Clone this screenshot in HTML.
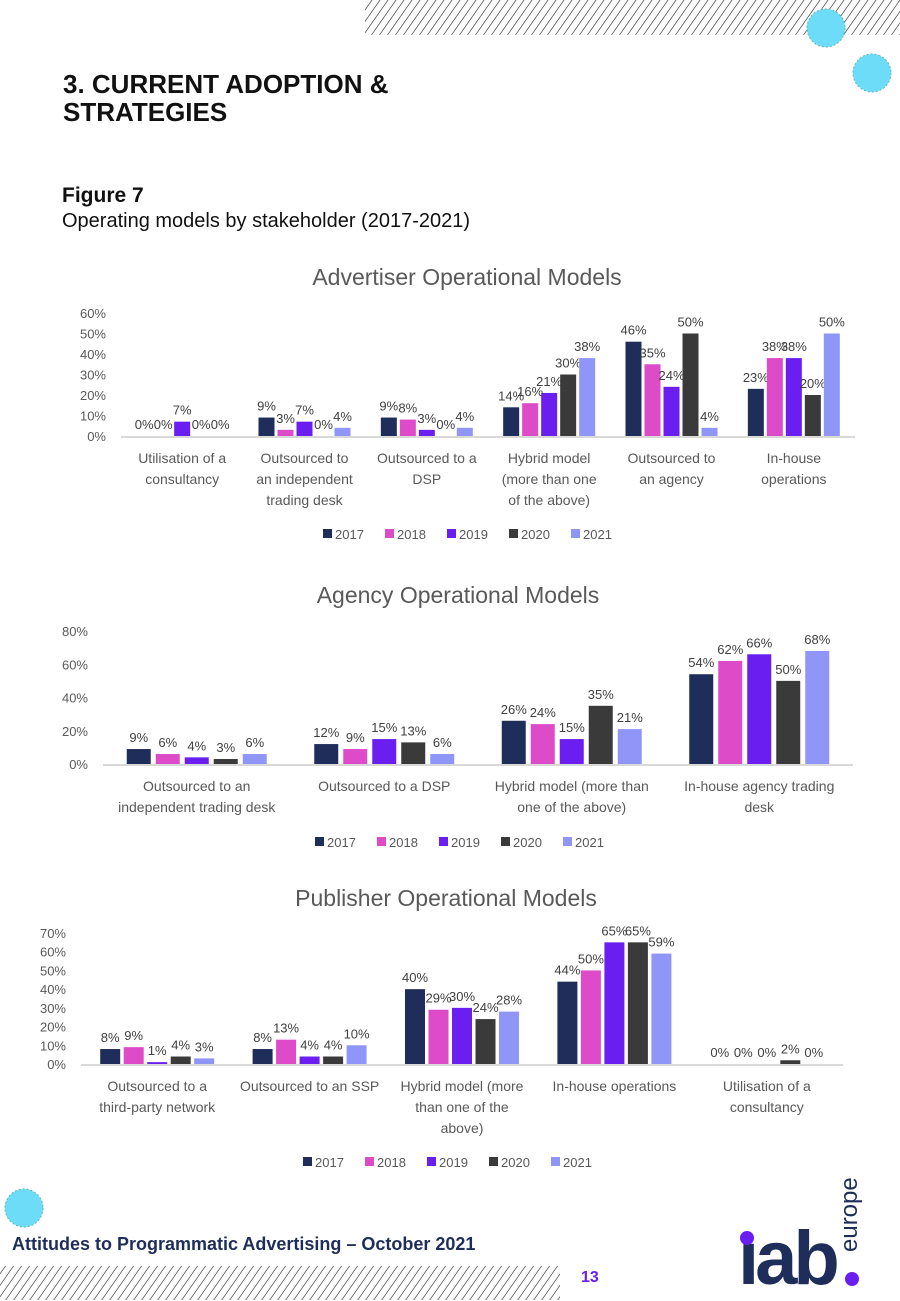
<!DOCTYPE html>
<html><head><meta charset="utf-8">
<style>
body{margin:0;width:900px;height:1300px;position:relative;background:#fff;font-family:"Liberation Sans",sans-serif;overflow:hidden}
.abs{position:absolute}
</style></head>
<body>
<svg class="abs" style="left:0;top:0" width="900" height="1300">
<defs>
<pattern id="hatch" width="8" height="8" patternUnits="userSpaceOnUse" patternTransform="skewX(-35)">
<line x1="4" y1="0" x2="4" y2="8" stroke="#333" stroke-width="0.8"/></pattern>
</defs>
<rect x="365" y="0" width="535" height="35" fill="url(#hatch)"/>
<rect x="0" y="1266" width="560" height="34" fill="url(#hatch)"/>
<circle cx="826" cy="28" r="19" fill="#6ddcf8" stroke="#5bb" stroke-dasharray="2 2"/>
<circle cx="872" cy="73" r="19" fill="#6ddcf8" stroke="#5bb" stroke-dasharray="2 2"/>
<circle cx="24" cy="1208" r="19" fill="#6ddcf8" stroke="#5bb" stroke-dasharray="2 2"/>
</svg>
<div class="abs" style="left:63px;top:70px;font-size:26px;font-weight:bold;line-height:28px;color:#111">3. CURRENT ADOPTION &amp;<br>STRATEGIES</div>
<div class="abs" style="left:62px;top:184px;font-size:21px;font-weight:bold;color:#111">Figure 7</div>
<div class="abs" style="left:62px;top:210px;font-size:20px;color:#111">Operating models by stakeholder (2017-2021)</div>
<div class="abs" style="left:12px;top:1234px;font-size:18px;font-weight:bold;color:#1f2d5a">Attitudes to Programmatic Advertising – October 2021</div>
<div class="abs" style="left:581px;top:1269px;font-size:16px;font-weight:bold;color:#6a1ff0">13</div>
<div class="abs" style="left:738px;top:1221px;font-size:76px;font-weight:bold;color:#1f2d5a;letter-spacing:-4px;line-height:76px">ıab</div>
<div class="abs" style="font-size:24px;color:#1f2d5a;transform:rotate(-90deg);transform-origin:0 0;top:1252px;left:836px;line-height:28px">europe</div>
<svg class="abs" style="left:0;top:0" width="900" height="1300" id="charts"></svg>
<script>
const years=["2017","2018","2019","2020","2021"];
const colors=["#1f2d5a","#dd4bc8","#6a1ff0","#3a3a3a","#8f96f8"];
const advCats=[["Utilisation of a","consultancy"],["Outsourced to","an independent","trading desk"],["Outsourced to a","DSP"],["Hybrid model","(more than one","of the above)"],["Outsourced to","an agency"],["In-house","operations"]];
const advVals=[[0,9,9,14,46,23],[0,3,8,16,35,38],[7,7,3,21,24,38],[0,0,0,30,50,20],[0,4,4,38,4,50]];
const advTicks=[0,10,20,30,40,50,60];
const agCats=[["Outsourced to an","independent trading desk"],["Outsourced to a DSP"],["Hybrid model (more than","one of the above)"],["In-house agency trading","desk"]];
const agVals=[[9,12,26,54],[6,9,24,62],[4,15,15,66],[3,13,35,50],[6,6,21,68]];
const agTicks=[0,20,40,60,80];
const pubCats=[["Outsourced to a","third-party network"],["Outsourced to an SSP"],["Hybrid model (more","than one of the","above)"],["In-house operations"],["Utilisation of a","consultancy"]];
const pubVals=[[8,8,40,44,0],[9,13,29,50,0],[1,4,30,65,0],[4,4,24,65,2],[3,10,28,59,0]];
const pubTicks=[0,10,20,30,40,50,60,70];
const svg=document.getElementById('charts');
const NS="http://www.w3.org/2000/svg";
function mk(tag,attrs,parent,text){const e=document.createElementNS(NS,tag);for(const k in attrs)e.setAttribute(k,attrs[k]);if(text!==undefined)e.textContent=text;parent.appendChild(e);return e;}
function chart(o){
  const g=mk('g',{},svg);
  
  
  const t=mk('text',{x:o.titleX,y:o.titleY,'font-size':23,fill:'#595959','text-anchor':'middle'},g,o.title);
  
  
  const maxT=o.ticks[o.ticks.length-1];
  const y=v=>o.y0-(v/maxT)*(o.y0-o.yTop);
  const gw=(o.x1-o.x0)/o.cats.length;
  o.ticks.forEach(tv=>{const tx=mk('text',{x:o.tickX,y:y(tv)+5,'font-size':13,fill:'#595959','text-anchor':'end'},g,tv+'%');
    
    });
  const ax=mk('line',{x1:o.x0,x2:o.x1,y1:o.y0+1,y2:o.y0+1,stroke:'#d9d9d9','stroke-width':2},g);
  
  
  o.cats.forEach((c,i)=>{
    const cx=o.x0+gw*(i+0.5);
    o.vals.forEach((ser,s)=>{
      const bx=cx+(s-2)*o.step-o.bw/2;const v=ser[i];
      const r=mk('rect',{x:bx,y:y(v),width:o.bw,height:o.y0-y(v),fill:colors[s]},g);
      
      
      const l=mk('text',{x:bx+o.bw/2,y:y(v)-7,'font-size':13,fill:'#404040','text-anchor':'middle'},g,v+'%');
      
      
    });
    c.forEach((line,k)=>{const ct=mk('text',{x:cx,y:o.y0+27+k*21,'font-size':14,fill:'#595959','text-anchor':'middle'},g,line);
      
      });
  });
  years.forEach((yr,s)=>{const lx=o.legX+s*62;
    const sw=mk('rect',{x:lx,y:o.legY-5,width:9,height:9,fill:colors[s]},g);
    
    
    const lt=mk('text',{x:lx+12,y:o.legY+5,'font-size':13,fill:'#595959'},g,yr);
    
    });
}
chart({name:'advertiser-chart',title:'Advertiser Operational Models',titleX:467,titleY:285,cats:advCats,vals:advVals,ticks:advTicks,y0:436,yTop:313,x0:121,x1:855,tickX:106,bw:16,step:19,legX:323,legY:534});
chart({name:'agency-chart',title:'Agency Operational Models',titleX:458,titleY:603,cats:agCats,vals:agVals,ticks:agTicks,y0:764,yTop:631,x0:103,x1:853,tickX:88,bw:24,step:29,legX:315,legY:842});
chart({name:'publisher-chart',title:'Publisher Operational Models',titleX:446,titleY:906,cats:pubCats,vals:pubVals,ticks:pubTicks,y0:1064,yTop:933,x0:81,x1:843,tickX:66,bw:20,step:23.5,legX:303,legY:1162});
</script>
<svg class="abs" style="left:0;top:0" width="900" height="1300">
<circle cx="747" cy="1238" r="7" fill="#6a1ff0"/><circle cx="852" cy="1279" r="7" fill="#6a1ff0"/>
</svg>
</body></html>
